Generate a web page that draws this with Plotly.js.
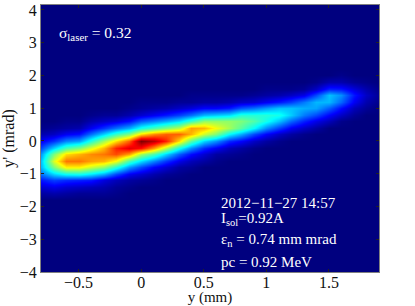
<!DOCTYPE html>
<html><head><meta charset="utf-8">
<script src="https://cdn.plot.ly/plotly-3.0.1.min.js"></script>
<style>html,body{margin:0;padding:0;background:#fff}#c{width:415px;height:306px}</style></head>
<body><div id="c"></div>
<script>
const xs=[-0.8,-0.7,-0.6,-0.5,-0.4,-0.3,-0.2,-0.1,0,0.1,0.2,0.3,0.4,0.5,0.6,0.7,0.8,0.9,1.0,1.1,1.2,1.3,1.4,1.5,1.6,1.7,1.8,1.9];
const ys=[-1.6,-1.4,-1.2,-1,-0.8,-0.6,-0.4,-0.2,0,0.2,0.4,0.6,0.8,1,1.2,1.4,1.6,1.8,2];
const zCols=[
[3,7,13,22,29,30,26,18,10,4,1],
[4,9,17,32,50,60,50,32,16,6,2],
[3,7,15,37,64,76,66,44,24,10,3,1],
[2,6,14,38,64,76,70,50,27,12,4,1],
[2,5,13,34,58,72,74,60,40,22,10,4,1],
[2,4,8,28,52,70,76,70,54,32,16,6,2],
[1,2,5,18,40,62,80,84,66,42,22,8,2],
[0,1,3,10,26,44,72,90,78,50,28,12,4,1],
[0,0,2,7,18,33,54,86,100,66,38,20,7,2,1],
[0,0,1,4,11,24,44,72,94,74,44,24,10,3,1],
[0,0,0,2,7,16,32,56,84,78,50,28,13,4,1],
[0,0,0,1,3,9,20,38,66,78,56,33,17,6,2],
[0,0,0,0,2,5,12,25,46,70,72,42,22,8,2,1],
[0,0,0,0,0,3,7,15,32,58,70,52,29,11,3,1],
[0,0,0,0,0,1,3,10,25,50,62,52,31,11,3,1],
[0,0,0,0,0,0,2,5,15,36,54,52,33,13,4,1],
[0,0,0,0,0,0,1,3,11,28,46,50,40,19,6,1],
[0,0,0,0,0,0,0,1,6,18,36,45,40,22,7,2],
[0,0,0,0,0,0,0,0,3,11,25,38,40,26,10,3,1],
[0,0,0,0,0,0,0,0,1,6,17,30,38,30,13,4,1],
[0,0,0,0,0,0,0,0,0,3,10,21,31,30,17,6,1],
[0,0,0,0,0,0,0,0,0,1,6,14,23,28,23,9,2],
[0,0,0,0,0,0,0,0,0,0,3,9,18,27,29,18,6,1],
[0,0,0,0,0,0,0,0,0,0,0,5,11,20,29,30,14,4],
[0,0,0,0,0,0,0,0,0,0,0,1,6,12,21,25,13,4,1],
[0,0,0,0,0,0,0,0,0,0,0,0,2,5,10,13,8,2],
[0,0,0,0,0,0,0,0,0,0,0,0,0,2,4,6,4,1],
[0,0,0,0,0,0,0,0,0,0,0,0,0,0,1,2,1]
];
const xTicks=[-0.5,0,0.5,1,1.5];
const xLabels=['\u22120.5','0','0.5','1','1.5'];
const yTicks=[-4,-3,-2,-1,0,1,2,3,4];
const yLabels=['\u22124','\u22123','\u22122','\u22121','0','1','2','3','4'];
const yFull=[-4,-1.8].concat(ys,[2.2,4.15]);
const zRows=yFull.map(v=>{const i=ys.indexOf(v);return xs.map((_,c)=>i<0?0:(zCols[c][i]||0));});
const jet=[[0,'#00007f'],[0.11,'#0000ff'],[0.36,'#00ffff'],[0.5,'#7dff7a'],[0.63,'#ffff00'],[0.87,'#ff0000'],[1,'#7f0000']];
const serif='"Liberation Serif", serif';
const W=338.5,H=267,L=41,T=5;
const note=(text,px,py,size)=>({text,xref:'paper',yref:'paper',x:(px-L)/W,y:1-(py-T)/H,xanchor:'left',yanchor:'middle',showarrow:false,font:{family:serif,size,color:'#fff'}});
const axis={showgrid:false,zeroline:false,ticks:'inside',ticklen:3,tickwidth:1,tickcolor:'#222',showline:true,linecolor:'#808080',linewidth:1,mirror:'ticks',tickfont:{family:serif,size:16,color:'#111'},tickmode:'array'};
Plotly.newPlot('c',[{type:'heatmap',x:xs,y:yFull,z:zRows,zmin:0,zmax:100,zsmooth:'best',colorscale:jet,showscale:false,hoverinfo:'skip'}],{
 width:415,height:306,paper_bgcolor:'#fff',plot_bgcolor:'#00007f',showlegend:false,
 margin:{l:L,r:415-L-W,t:T,b:306-T-H,pad:0},
 xaxis:Object.assign({},axis,{range:[-0.8,1.9],tickvals:xTicks,ticktext:xLabels,ticklabelstandoff:-4,title:{text:'y (mm)',font:{family:serif,size:15,color:'#111'},standoff:1}}),
 yaxis:Object.assign({},axis,{range:[-4,4.15],tickvals:yTicks,ticktext:yLabels,title:{text:"y' (mrad)",font:{family:serif,size:16,color:'#111'},standoff:2}}),
 annotations:[
  note('\u03C3<sub>laser</sub> = 0.32',57,33,15.5),
  note('2012\u221211\u221227 14:57',219,203,15),
  note('I<sub>sol</sub>=0.92A',219,219,15),
  note('\u03B5<sub>n</sub> = 0.74 mm mrad',219,240,15),
  note('pc = 0.92 MeV',219,262,15)
 ]
},{displayModeBar:false,staticPlot:true});
</script></body></html>
